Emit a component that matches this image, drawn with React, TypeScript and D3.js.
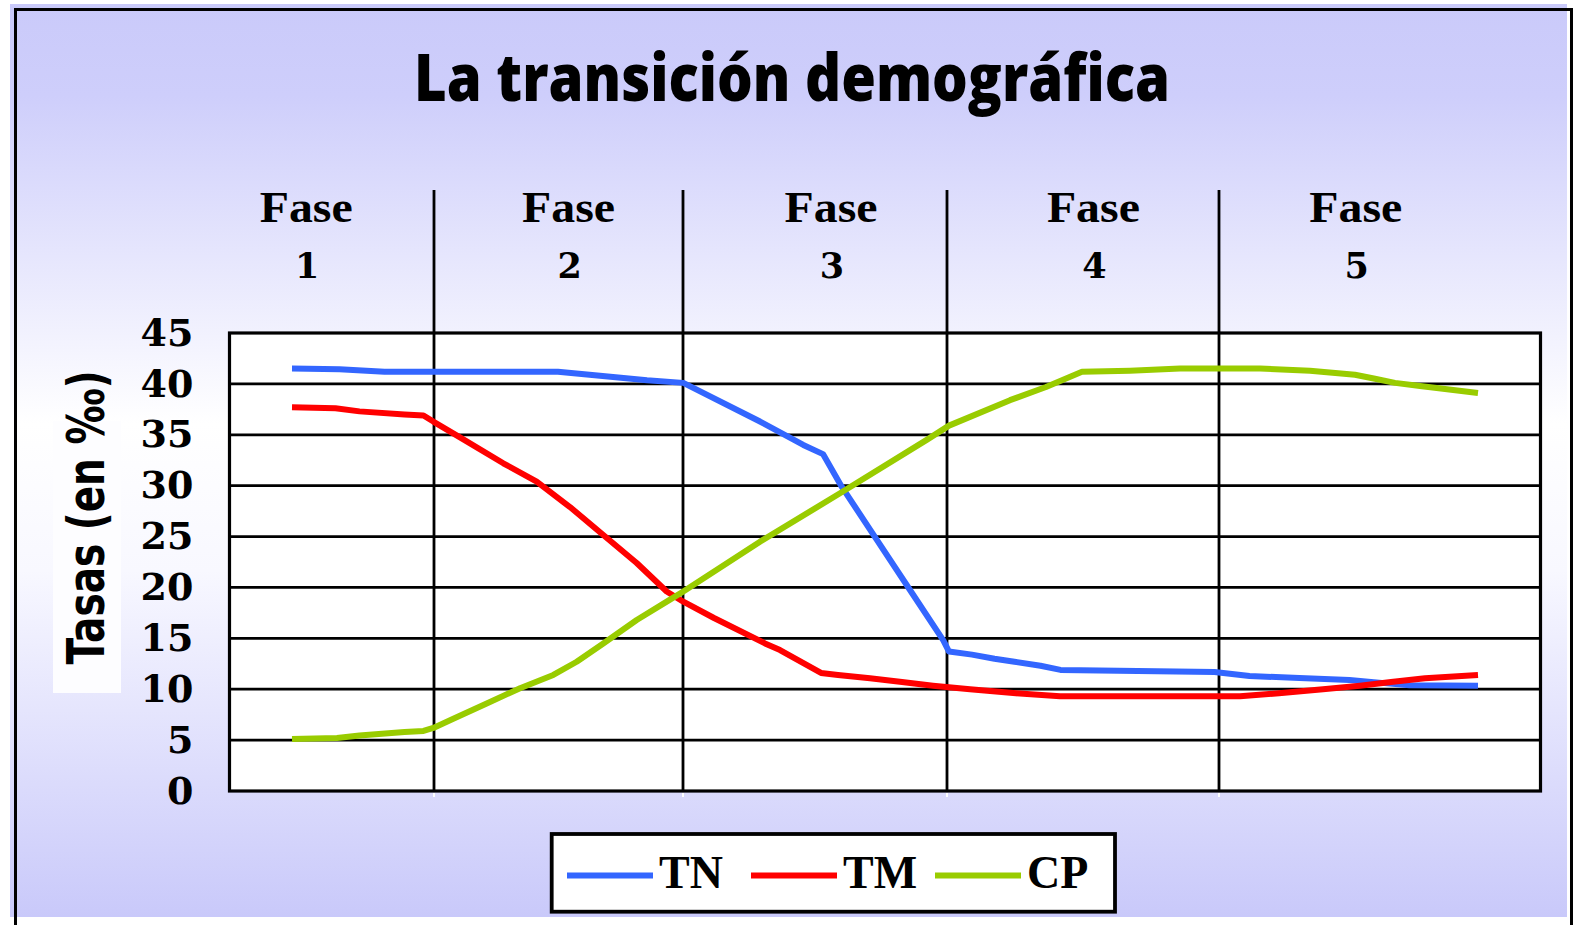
import React, { useEffect, useRef } from 'react';
import * as d3 from 'd3';

// ---------------- data ----------------
const chartTitle = 'La transición demográfica';
const yAxisTitle = 'Tasas (en ‰)';
const phaseWord = 'Fase';
const phaseNames = ['1', '2', '3', '4', '5'];
// end of each phase on the time axis (arbitrary time units, 0..131)
const phaseEnds = [20.45, 45.35, 71.75, 98.95];
const yTickValues = [0, 5, 10, 15, 20, 25, 30, 35, 40, 45];
const seriesNames = ['TN', 'TM', 'CP'];
const seriesColors = ['#3366FF', '#FF0000', '#99CC00'];

// TN: tasa de natalidad  [time, ‰]
const tnData: [number, number][] = [
  [6.25, 41.5], [11.0, 41.45], [15.5, 41.2], [32.85, 41.2], [37.05, 40.8],
  [41.75, 40.35], [45.38, 40.1], [53.05, 36.3], [57.38, 34.0], [59.35, 33.1],
  [61.22, 29.9], [64.72, 24.7], [68.05, 19.75], [71.38, 14.8], [71.95, 13.7],
  [74.25, 13.4], [76.5, 13.0], [78.5, 12.7], [81.1, 12.3], [83.1, 11.9],
  [98.5, 11.7], [102.0, 11.3], [107.0, 11.1], [112.0, 10.9], [115.5, 10.6],
  [118.0, 10.4], [124.85, 10.35],
];
// TM: tasa de mortalidad
const tmData: [number, number][] = [
  [6.25, 37.7], [10.6, 37.6], [13.0, 37.3], [17.5, 37.0], [19.4, 36.9],
  [20.38, 36.3], [23.05, 34.75], [27.38, 32.2], [30.72, 30.4], [34.05, 27.9],
  [37.38, 25.15], [40.72, 22.4], [43.72, 19.6], [45.38, 18.6], [48.45, 17.0],
  [53.55, 14.5], [55.05, 13.85], [59.15, 11.6], [60.85, 11.4], [64.05, 11.07],
  [67.25, 10.7], [70.35, 10.35], [74.05, 10.0], [78.65, 9.6], [83.05, 9.3],
  [101.05, 9.3], [104.95, 9.6], [109.35, 10.0], [113.05, 10.35], [116.15, 10.7],
  [119.55, 11.07], [124.85, 11.4],
];
// CP: crecimiento de la población
const cpData: [number, number][] = [
  [6.25, 5.1], [10.75, 5.2], [13.0, 5.45], [17.5, 5.8], [19.4, 5.9],
  [20.38, 6.2], [22.38, 7.1], [25.72, 8.6], [29.05, 10.1], [32.38, 11.4],
  [34.72, 12.7], [37.38, 14.5], [40.72, 16.8], [44.05, 18.8], [45.38, 19.6],
  [53.05, 24.5], [61.05, 29.25], [69.72, 34.5], [71.95, 35.9], [78.05, 38.4],
  [81.65, 39.7], [85.25, 41.2], [90.05, 41.3], [95.05, 41.5], [103.05, 41.5],
  [108.05, 41.3], [112.55, 40.9], [114.55, 40.5], [116.55, 40.1], [119.05, 39.8],
  [121.55, 39.5], [124.85, 39.1],
];
const seriesData = [tnData, tmData, cpData];

// ---------------- layout ----------------
const W = 1582;
const H = 925;
const plot = { left: 229.5, right: 1540.5, top: 333, bottom: 791 };
const timeMax = 131.1;

export default function App() {
  const axisRef = useRef<SVGGElement>(null);

  const x = d3.scaleLinear().domain([0, timeMax]).range([plot.left, plot.right]);
  const y = d3.scaleLinear().domain([0, 45]).range([plot.bottom, plot.top]);
  const phaseBand = d3.scaleBand<string>().domain(phaseNames).range([175, 1487]);
  const legendPos = d3.scalePoint<string>().domain(seriesNames).range([567, 935]);
  const line = d3
    .line<[number, number]>()
    .x((d) => x(d[0]))
    .y((d) => y(d[1]));

  useEffect(() => {
    if (!axisRef.current) return;
    const g = d3.select(axisRef.current);
    g.call(d3.axisLeft(y).tickValues(yTickValues).tickSize(0).tickPadding(36));
    g.select('.domain').remove();
    g.attr('font-family', "'DejaVu Serif', serif")
      .attr('font-size', 38)
      .attr('font-weight', 'bold');
    g.selectAll('text').attr('fill', '#000');
  }, []);

  const serif = "'Liberation Serif', 'Times New Roman', serif";

  return (
    <svg
      width={W}
      height={H}
      style={{ position: 'absolute', left: 0, top: 0, background: '#fff' }}
    >
      <defs>
        <linearGradient id="bg" x1="0" y1="0" x2="0" y2="1">
          <stop offset="0" stopColor="#CACAFA" />
          <stop offset="0.1" stopColor="#CECEFB" />
          <stop offset="0.46" stopColor="#FFFFFF" />
          <stop offset="0.62" stopColor="#F8F8FF" />
          <stop offset="1" stopColor="#C9C9FA" />
        </linearGradient>
      </defs>

      {/* background panel */}
      <rect x={10} y={4} width={1557} height={913} fill="url(#bg)" />
      <line x1={15} x2={1572} y1={9.5} y2={9.5} stroke="#000" strokeWidth={3} />
      <line x1={15.5} x2={15.5} y1={8} y2={H} stroke="#000" strokeWidth={3} />
      <line x1={1571.5} x2={1571.5} y1={8} y2={H} stroke="#000" strokeWidth={3} />

      {/* title */}
      <text
        x={414}
        y={100.5}
        fontFamily="'Open Sans', 'DejaVu Sans', sans-serif"
        fontWeight={800}
        fontSize={65}
        textLength={756}
        lengthAdjust="spacingAndGlyphs"
        fill="#000"
      >
        {chartTitle}
      </text>

      {/* phase labels */}
      {phaseNames.map((p) => {
        const cx = (phaseBand(p) as number) + phaseBand.bandwidth() / 2;
        return (
          <g key={p}>
            <text
              x={cx}
              y={222}
              textAnchor="middle"
              fontFamily={serif}
              fontWeight="bold"
              fontSize={45}
              textLength={93}
              lengthAdjust="spacingAndGlyphs"
            >
              {phaseWord}
            </text>
            <text
              x={cx + 1}
              y={278}
              textAnchor="middle"
              fontFamily="'DejaVu Serif', serif"
              fontWeight="bold"
              fontSize={35}
            >
              {p}
            </text>
          </g>
        );
      })}

      {/* y axis title */}
      <rect x={53} y={421} width={68} height={272} fill="#FDFDFF" />
      <text
        transform={`translate(103.5, 517.5) rotate(-90)`}
        textAnchor="middle"
        fontFamily="'DejaVu Sans', sans-serif"
        fontWeight="bold"
        fontSize={51}
        textLength={294}
        lengthAdjust="spacingAndGlyphs"
      >
        {yAxisTitle}
      </text>

      {/* plot area */}
      <rect
        x={plot.left}
        y={plot.top}
        width={plot.right - plot.left}
        height={plot.bottom - plot.top}
        fill="#fff"
      />
      {yTickValues
        .filter((v) => v > 0 && v < 45)
        .map((v) => (
          <line
            key={v}
            x1={plot.left}
            x2={plot.right}
            y1={y(v)}
            y2={y(v)}
            stroke="#000"
            strokeWidth={2.8}
          />
        ))}
      {phaseEnds.map((t, i) => (
        <g key={i}>
          <line x1={x(t)} x2={x(t)} y1={190} y2={plot.bottom} stroke="#000" strokeWidth={2.8} />
          <line x1={x(t)} x2={x(t)} y1={plot.bottom + 2} y2={plot.bottom + 6} stroke="#fff" strokeWidth={2} />
        </g>
      ))}
      <rect
        x={plot.left}
        y={plot.top}
        width={plot.right - plot.left}
        height={plot.bottom - plot.top}
        fill="none"
        stroke="#000"
        strokeWidth={3.2}
      />

      {/* series */}
      {seriesData.map((d, i) => (
        <path
          key={seriesNames[i]}
          d={line(d) || ''}
          fill="none"
          stroke={seriesColors[i]}
          strokeWidth={6}
          strokeLinejoin="round"
        />
      ))}

      {/* y axis ticks */}
      <g ref={axisRef} transform={`translate(${plot.left},0)`} />

      {/* legend */}
      <rect x={551.7} y={834} width={563.3} height={77.7} fill="#fff" stroke="#000" strokeWidth={3.8} />
      {seriesNames.map((s, i) => {
        const lx = legendPos(s) as number;
        return (
          <g key={s}>
            <line x1={lx} x2={lx + 86} y1={875.5} y2={875.5} stroke={seriesColors[i]} strokeWidth={6} />
            <text x={lx + 92} y={888.3} fontFamily={serif} fontWeight="bold" fontSize={46}>
              {s}
            </text>
          </g>
        );
      })}
    </svg>
  );
}
